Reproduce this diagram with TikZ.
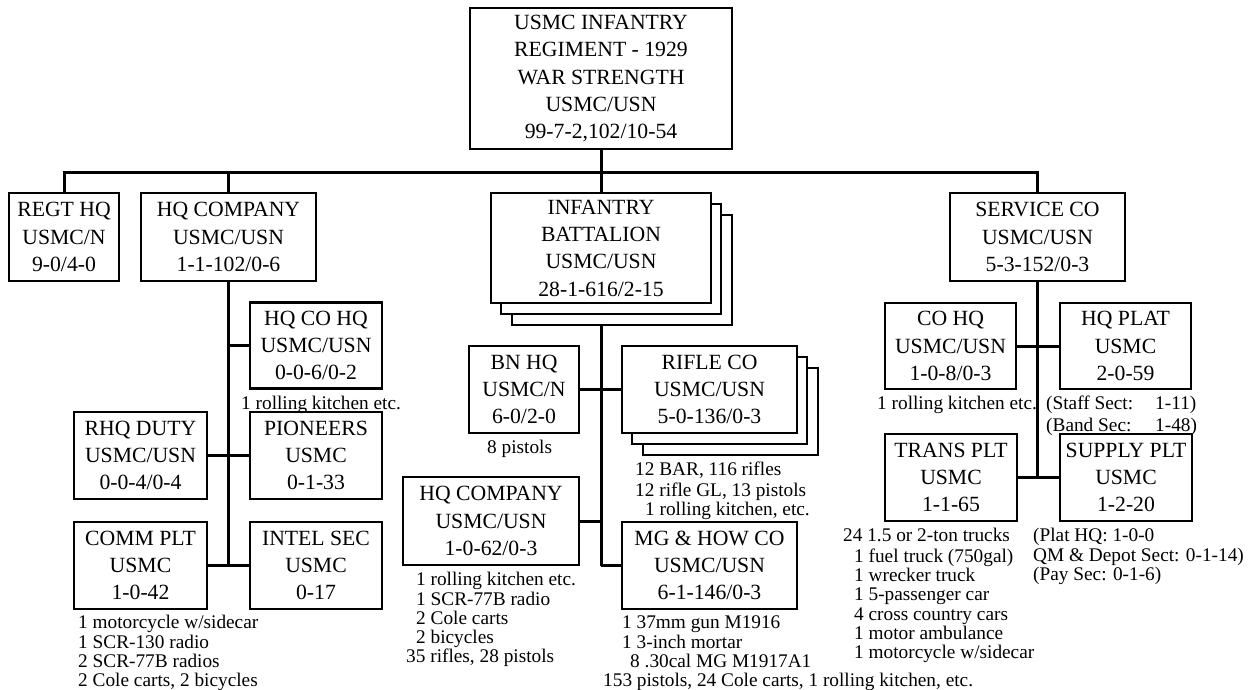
\documentclass[tikz,border=0pt]{standalone}
\usepackage{fontspec}
\setmainfont{Liberation Serif}
\newcommand\bxfont{\fontsize{21.7}{27.3}\selectfont}
\newcommand\anfont{\fontsize{19.3}{19.3}\selectfont}
\tikzset{
  box/.style={draw, line width=2.5pt, fill=white, inner sep=0pt, align=center, font=\bxfont},
  conn/.style={line width=3pt, line join=miter},
  ann/.style={font=\anfont, inner sep=0pt, align=left, anchor=north west},
}
\begin{document}
\begin{tikzpicture}[x=1pt,y=-1pt]
\useasboundingbox (0,0) rectangle (1252,689);

% top
\node[box, minimum width=262, minimum height=141] (top) at (601,78.5)
  {USMC INFANTRY\\REGIMENT - 1929\\WAR STRENGTH\\USMC/USN\\99-7-2,102/10-54};

% second row
\node[box, minimum width=110, minimum height=88] (regt) at (64,237) {REGT HQ\\USMC/N\\9-0/4-0};
\node[box, minimum width=175, minimum height=88] (hqco) at (228.5,237) {HQ COMPANY\\USMC/USN\\1-1-102/0-6};
\node[box, minimum width=220, minimum height=110] (bns2) at (622,270) {};
\node[box, minimum width=220, minimum height=110] (bns1) at (611,259) {};
\node[box, minimum width=220, minimum height=110] (bn) at (601,248) {INFANTRY\\BATTALION\\USMC/USN\\28-1-616/2-15};
\node[box, minimum width=175, minimum height=88] (svc) at (1037.5,237) {SERVICE CO\\USMC/USN\\5-3-152/0-3};

% HQ company branch
\node[box, minimum width=132, minimum height=86] (hqcohq) at (316,345.5) {HQ CO HQ\\USMC/USN\\0-0-6/0-2};
\node[box, minimum width=133, minimum height=87] (rhq) at (140.5,455.5) {RHQ DUTY\\USMC/USN\\0-0-4/0-4};
\node[box, minimum width=132, minimum height=87] (pion) at (316,455.5) {PIONEERS\\USMC\\0-1-33};
\node[box, minimum width=133, minimum height=87] (comm) at (140.5,565.5) {COMM PLT\\USMC\\1-0-42};
\node[box, minimum width=132, minimum height=87] (intel) at (316,565.5) {INTEL SEC\\USMC\\0-17};

% battalion branch
\node[box, minimum width=110, minimum height=87] (bnhq) at (524,389.5) {BN HQ\\USMC/N\\6-0/2-0};
\node[box, minimum width=175, minimum height=87] (rifs2) at (730.5,411.5) {};
\node[box, minimum width=175, minimum height=87] (rifs1) at (719.5,400.5) {};
\node[box, minimum width=175, minimum height=87] (rifle) at (709.5,389.5) {RIFLE CO\\USMC/USN\\5-0-136/0-3};
\node[box, minimum width=176, minimum height=88] (bnhqco) at (491,521) {HQ COMPANY\\USMC/USN\\1-0-62/0-3};
\node[box, minimum width=175, minimum height=87] (mg) at (709.5,565.5) {MG \& HOW CO\\USMC/USN\\6-1-146/0-3};

% service branch
\node[box, minimum width=131, minimum height=86] (cohq) at (950.5,346) {CO HQ\\USMC/USN\\1-0-8/0-3};
\node[box, minimum width=131, minimum height=86] (hqplat) at (1125.5,346) {HQ PLAT\\USMC\\2-0-59};
\node[box, minimum width=132, minimum height=87] (trans) at (951,477.5) {TRANS PLT\\USMC\\1-1-65};
\node[box, minimum width=132, minimum height=87] (supply) at (1126,477.5) {SUPPLY PLT\\USMC\\1-2-20};

% connectors
\coordinate (bus) at (601,172);
\draw[conn] (top.south) -- (bus);
\draw[conn] (regt.north) -- (regt.north |- bus) -- (svc.north |- bus) -- (svc.north);
\draw[conn] (hqco.north) -- (hqco.north |- bus);
\draw[conn] (bn.north) -- (bn.north |- bus);

\draw[conn] (hqco.south) -- (hqco.south |- comm.east);
\draw[conn] (hqcohq.west) -- (hqcohq.west -| hqco.south);
\draw[conn] (rhq.east) -- (pion.west);
\draw[conn] (comm.east) -- (intel.west);

\draw[conn] (bn.south |- bns2.south) -- (bn.south |- mg.west);
\draw[conn] (bnhq.east) -- (rifle.west);
\draw[conn] (bnhqco.east) -- (bnhqco.east -| bn.south);
\draw[conn] (mg.west) -- (mg.west -| bn.south);

\draw[conn] (svc.south) -- (svc.south |- trans.east);
\draw[conn] (cohq.east) -- (hqplat.west);
\draw[conn] (trans.east) -- (supply.west);

% annotations
\node[ann] (a1) at (241,396) {\strut 1 rolling kitchen etc.};
\node[ann] (a2) at (78,615) {\strut 1 motorcycle w/sidecar\\1 SCR-130 radio\\2 SCR-77B radios\\2 Cole carts, 2 bicycles};
\node[ann] (a3) at (487,440) {\strut 8 pistols};
\node[ann] (a4) at (635,462) {\strut 12 BAR, 116 rifles\\12 rifle GL, 13 pistols\\\hspace*{10pt}1 rolling kitchen, etc.};
\node[ann] (a5) at (406,572) {\strut\hspace*{10pt}1 rolling kitchen etc.\\\hspace*{10pt}1 SCR-77B radio\\\hspace*{10pt}2 Cole carts\\\hspace*{10pt}2 bicycles\\35 rifles, 28 pistols};
\node[ann] (a6) at (603,615) {\strut\hspace*{19pt}1 37mm gun M1916\\\hspace*{19pt}1 3-inch mortar\\\hspace*{27pt}8 .30cal MG M1917A1\\153 pistols, 24 Cole carts, 1 rolling kitchen, etc.};
\node[ann] (a7) at (877,396) {\strut 1 rolling kitchen etc.};
\node[ann] (a8) at (1046,396) {\strut\makebox[109pt][l]{(Staff Sect:}1-11)\\[2pt]\makebox[109pt][l]{(Band Sec:}1-48)};
\node[ann] (a9) at (843,528) {\strut 24 1.5 or 2-ton trucks\\\hspace*{11pt}1 fuel truck (750gal)\\\hspace*{11pt}1 wrecker truck\\\hspace*{11pt}1 5-passenger car\\\hspace*{11pt}4 cross country cars\\\hspace*{11pt}1 motor ambulance\\\hspace*{11pt}1 motorcycle w/sidecar};
\node[ann] (a10) at (1033,528) {\strut (Plat HQ: 1-0-0\\QM \& Depot Sect: 0-1-14)\\(Pay Sec: 0-1-6)};
\end{tikzpicture}
\end{document}
